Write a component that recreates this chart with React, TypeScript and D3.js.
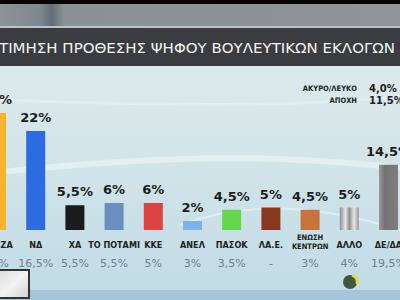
import React from "react";
import * as d3 from "d3";

const categories = ["ΣΥΡΙΖΑ", "ΝΔ", "ΧΑ", "ΤΟ ΠΟΤΑΜΙ", "ΚΚΕ", "ΑΝΕΛ", "ΠΑΣΟΚ", "ΛΑΕ", "ΕΝΩΣΗ ΚΕΝΤΡΩΝ", "ΑΛΛΟ", "ΔΕ/ΔΑ"];
const catLines = [["ΣΥΡΙΖΑ"], ["ΝΔ"], ["ΧΑ"], ["ΤΟ ΠΟΤΑΜΙ"], ["ΚΚΕ"], ["ΑΝΕΛ"], ["ΠΑΣΟΚ"], ["ΛΑ.Ε."], ["ΕΝΩΣΗ", "ΚΕΝΤΡΩΝ"], ["ΑΛΛΟ"], ["ΔΕ/ΔΑ"]];
const currentValues = [26, 22, 5.5, 6, 6, 2, 4.5, 5, 4.5, 5, 14.5];
const currentLabels = ["26%", "22%", "5,5%", "6%", "6%", "2%", "4,5%", "5%", "4,5%", "5%", "14,5%"];
const previousLabels = ["24%", "16,5%", "5,5%", "5,5%", "5%", "3%", "3,5%", "-", "3%", "4%", "19,5%"];
const barColors = ["#f4b52c", "#2d6be0", "#1b1b1d", "#6a8fbf", "#de4343", "#7db2ee", "#62d84a", "#8a381c", "#c8733a", "url(#alloGrad)", "url(#deGrad)"];
const extraLabels = ["ΑΚΥΡΟ/ΛΕΥΚΟ", "ΑΠΟΧΗ"];
const extraValues = ["4,0%", "11,5%"];
const title = "ΤΙΜΗΣΗ ΠΡΟΘΕΣΗΣ ΨΗΦΟΥ ΒΟΥΛΕΥΤΙΚΩΝ ΕΚΛΟΓΩΝ";

export default function App() {
  const W = 400, H = 300;
  const x = d3.scalePoint<string>().domain(categories).range([-3.5, 388.5]);
  const y = d3.scaleLinear().domain([0, 26]).range([230, 113]);
  const bw = 19;
  const font = "'DejaVu Sans', sans-serif";
  const cond = "'DejaVu Sans Condensed', 'DejaVu Sans', sans-serif";
  return (
    <svg width={W} height={H} style={{ position: "fixed", left: 0, top: 0 }}>
      <defs>
        <linearGradient id="bg" x1="0" y1="0" x2="0" y2="1">
          <stop offset="0" stopColor="#e3eced" />
          <stop offset="0.5" stopColor="#d3e5e9" />
          <stop offset="1" stopColor="#c0dbe6" />
        </linearGradient>
        <linearGradient id="topBand" x1="0" y1="0" x2="1" y2="0">
          <stop offset="0" stopColor="#8d9396" />
          <stop offset="0.1" stopColor="#7f8890" />
          <stop offset="0.13" stopColor="#5f6e79" />
          <stop offset="0.16" stopColor="#8a9194" />
          <stop offset="1" stopColor="#8e9497" />
        </linearGradient>
        <linearGradient id="alloGrad" x1="0" y1="0" x2="1" y2="0">
          <stop offset="0" stopColor="#8e8e8e" />
          <stop offset="0.3" stopColor="#e6e6e6" />
          <stop offset="0.5" stopColor="#8f8f8f" />
          <stop offset="0.75" stopColor="#e8e8e8" />
          <stop offset="1" stopColor="#959595" />
        </linearGradient>
        <linearGradient id="deGrad" x1="0" y1="0" x2="1" y2="0">
          <stop offset="0" stopColor="#9a9a9a" />
          <stop offset="0.3" stopColor="#737373" />
          <stop offset="1" stopColor="#7e7e7e" />
        </linearGradient>
        <linearGradient id="boxGrad" x1="0" y1="0" x2="1" y2="1">
          <stop offset="0" stopColor="#d9d9d9" />
          <stop offset="0.5" stopColor="#f4f4f4" />
          <stop offset="1" stopColor="#d0d0d0" />
        </linearGradient>
      </defs>
      <rect x={0} y={0} width={W} height={H} fill="url(#bg)" />
      <path d="M0,172 C120,160 250,150 400,168" stroke="#eef6f7" strokeWidth={6} fill="none" opacity={0.6} />
      <path d="M0,100 C150,105 300,108 400,96" stroke="#eef6f7" strokeWidth={3} fill="none" opacity={0.5} />
      <path d="M180,225 C250,200 320,205 400,230" stroke="#eef6f7" strokeWidth={2} fill="none" opacity={0.6} />
      <rect x={0} y={290} width={W} height={10} fill="#a3c6dc" />
      <rect x={0} y={0} width={W} height={4} fill="#050505" />
      <rect x={0} y={4} width={W} height={23} fill="url(#topBand)" />
      <rect x={0} y={26} width={W} height={2} fill="#b9c4c8" />
      <rect x={0} y={28} width={W} height={38} fill="#3a3c40" />
      <text x={-1} y={53} fill="#f2f2f2" fontFamily={font} fontSize={14} textLength={396} lengthAdjust="spacingAndGlyphs">{title}</text>

      {extraLabels.map((l, i) => (
        <g key={l}>
          <text x={357} y={91 + i * 12} textAnchor="end" fontFamily={cond} fontWeight="bold" fontSize={7.5} fill="#222">{l}</text>
          <text x={369} y={92 + i * 12} fontFamily={font} fontWeight="bold" fontSize={10} fill="#222">{extraValues[i]}</text>
        </g>
      ))}

      {categories.map((c, i) => {
        const cx = x(c)!;
        const top = y(currentValues[i]);
        return (
          <g key={c}>
            <rect x={cx - bw / 2} y={top} width={bw} height={y(0) - top} fill={barColors[i]} />
            <text x={cx} y={top - 9} textAnchor="middle" fontFamily={font} fontWeight="bold" fontSize={13} fill="#1d1d1d">{currentLabels[i]}</text>
            {catLines[i].map((ln, j) => (
              <text key={j} x={cx} y={catLines[i].length > 1 ? 240 + j * 9 : 248} textAnchor="middle" fontFamily={cond} fontWeight="bold" fontSize={catLines[i].length > 1 ? 7.5 : 9} fill="#222">{ln}</text>
            ))}
            <text x={cx} y={267} textAnchor="middle" fontFamily={font} fontSize={11} fill="#6b8390">{previousLabels[i]}</text>
          </g>
        );
      })}

      <rect x={-2} y={270} width={31} height={28} fill="url(#boxGrad)" stroke="#333" strokeWidth={2} />
      <circle cx={350} cy={282} r={7} fill="#3d5a3c" />
      <path d="M352,275 A7,7 0 0 1 357,284" stroke="#e6d84a" strokeWidth={3} fill="none" />
    </svg>
  );
}
